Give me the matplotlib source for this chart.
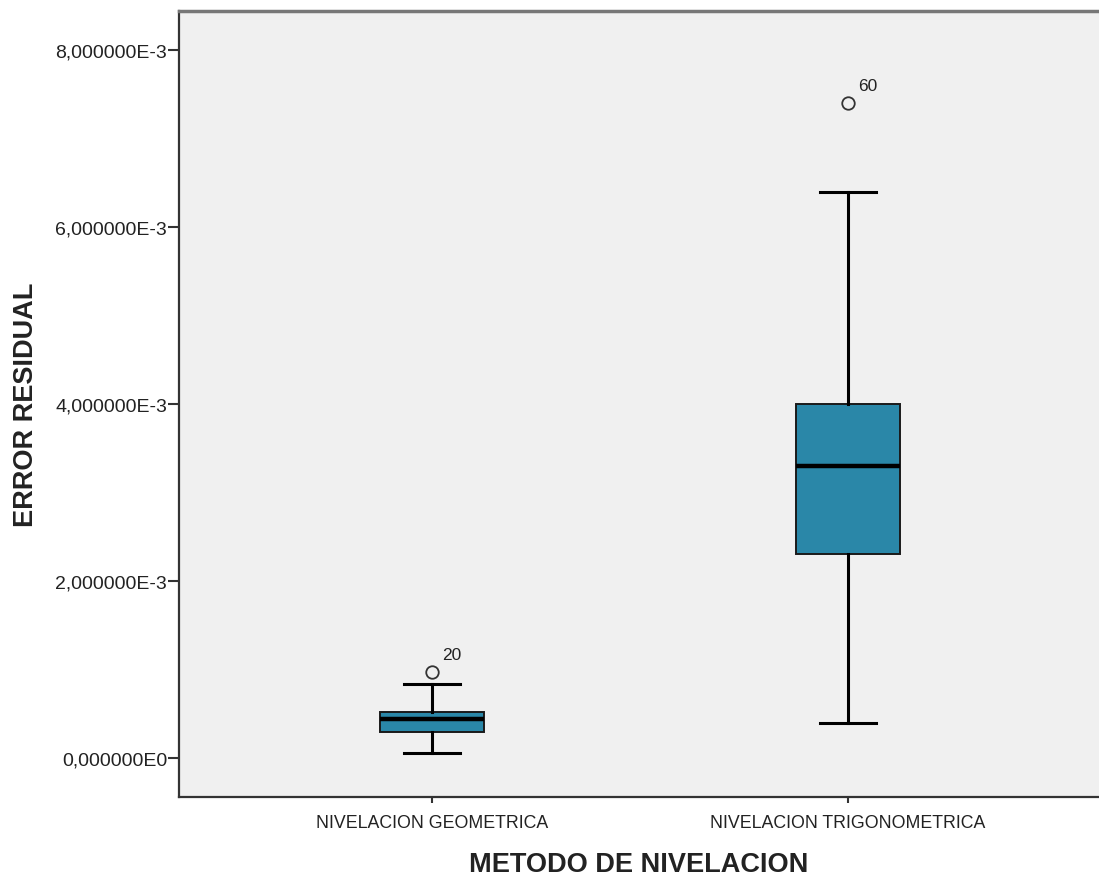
import matplotlib
matplotlib.use("Agg")
import matplotlib.pyplot as plt
from matplotlib.ticker import FuncFormatter

# --- Data (units of the residual error) ----------------------------------------
categories = ["NIVELACION GEOMETRICA", "NIVELACION TRIGONOMETRICA"]
whisker_low = [0.056e-3, 0.40e-3]
q1 = [0.29e-3, 2.30e-3]
median = [0.44e-3, 3.30e-3]
q3 = [0.52e-3, 4.00e-3]
whisker_high = [0.836e-3, 6.40e-3]
outliers = [[0.97e-3], [7.40e-3]]
outlier_ids = [["20"], ["60"]]

y_ticks = [0.0, 2e-3, 4e-3, 6e-3, 8e-3]

BOX_FILL = "#2A87A8"
PANEL = "#F0F0F0"
INK = "#1A1A1A"

plt.rcParams["font.family"] = ["Liberation Sans", "DejaVu Sans"]


def spss_sci(v, _pos=None):
    if v == 0:
        return "0,000000E0"
    exp = 0
    m = v
    while abs(m) < 1:
        m *= 10
        exp -= 1
    while abs(m) >= 10:
        m /= 10
        exp += 1
    return f"{m:.6f}".replace(".", ",") + f"E{exp}"


stats = []
for i in range(len(categories)):
    stats.append({
        "whislo": whisker_low[i], "q1": q1[i], "med": median[i],
        "q3": q3[i], "whishi": whisker_high[i], "fliers": outliers[i],
    })

fig = plt.figure(figsize=(10.99, 8.79), dpi=100)
ax = fig.add_axes([179 / 1099, 1 - 798 / 879, 920 / 1099, (798 - 12) / 879])
ax.set_facecolor(PANEL)

positions = [1, 2]
ax.bxp(
    stats, positions=positions, widths=0.25, patch_artist=True,
    boxprops=dict(facecolor=BOX_FILL, edgecolor=INK, linewidth=1.4),
    medianprops=dict(color="black", linewidth=3.2),
    whiskerprops=dict(color="black", linewidth=2.2),
    capprops=dict(color="black", linewidth=2.2),
    capwidths=0.135,
    flierprops=dict(marker="o", markerfacecolor="none", markeredgecolor="#333333",
                    markersize=9, markeredgewidth=1.3),
)

for pos, vals, ids in zip(positions, outliers, outlier_ids):
    for v, lab in zip(vals, ids):
        ax.annotate(lab, (pos, v), xytext=(7, 7), textcoords="offset points",
                    fontsize=12.5, color="#222222", ha="left", va="bottom")

ax.set_xlim(0.392, 2.603)
ax.set_ylim(-0.44e-3, 8.44e-3)
ax.set_yticks(y_ticks)
ax.yaxis.set_major_formatter(FuncFormatter(spss_sci))
ax.set_xticks(positions)
ax.set_xticklabels(categories)

ax.tick_params(axis="y", length=8, width=1.5, color="#333333", labelsize=14,
               labelcolor="#222222", pad=0.5)
ax.tick_params(axis="x", length=4, width=1.5, color="#333333", labelsize=12.8,
               labelcolor="#222222", pad=8)

ax.set_xlabel("METODO DE NIVELACION", fontsize=19.5, fontweight="bold",
              color="#222222", labelpad=15)
ax.set_ylabel("ERROR RESIDUAL", fontsize=19.5, fontweight="bold",
              color="#222222", labelpad=12)

for s in ("left", "bottom"):
    ax.spines[s].set_color("#333333")
    ax.spines[s].set_linewidth(1.6)
ax.spines["top"].set_color("#777777")
ax.spines["top"].set_linewidth(2.5)
ax.spines["right"].set_visible(False)

fig.savefig("out.png", dpi=100, facecolor="white")
